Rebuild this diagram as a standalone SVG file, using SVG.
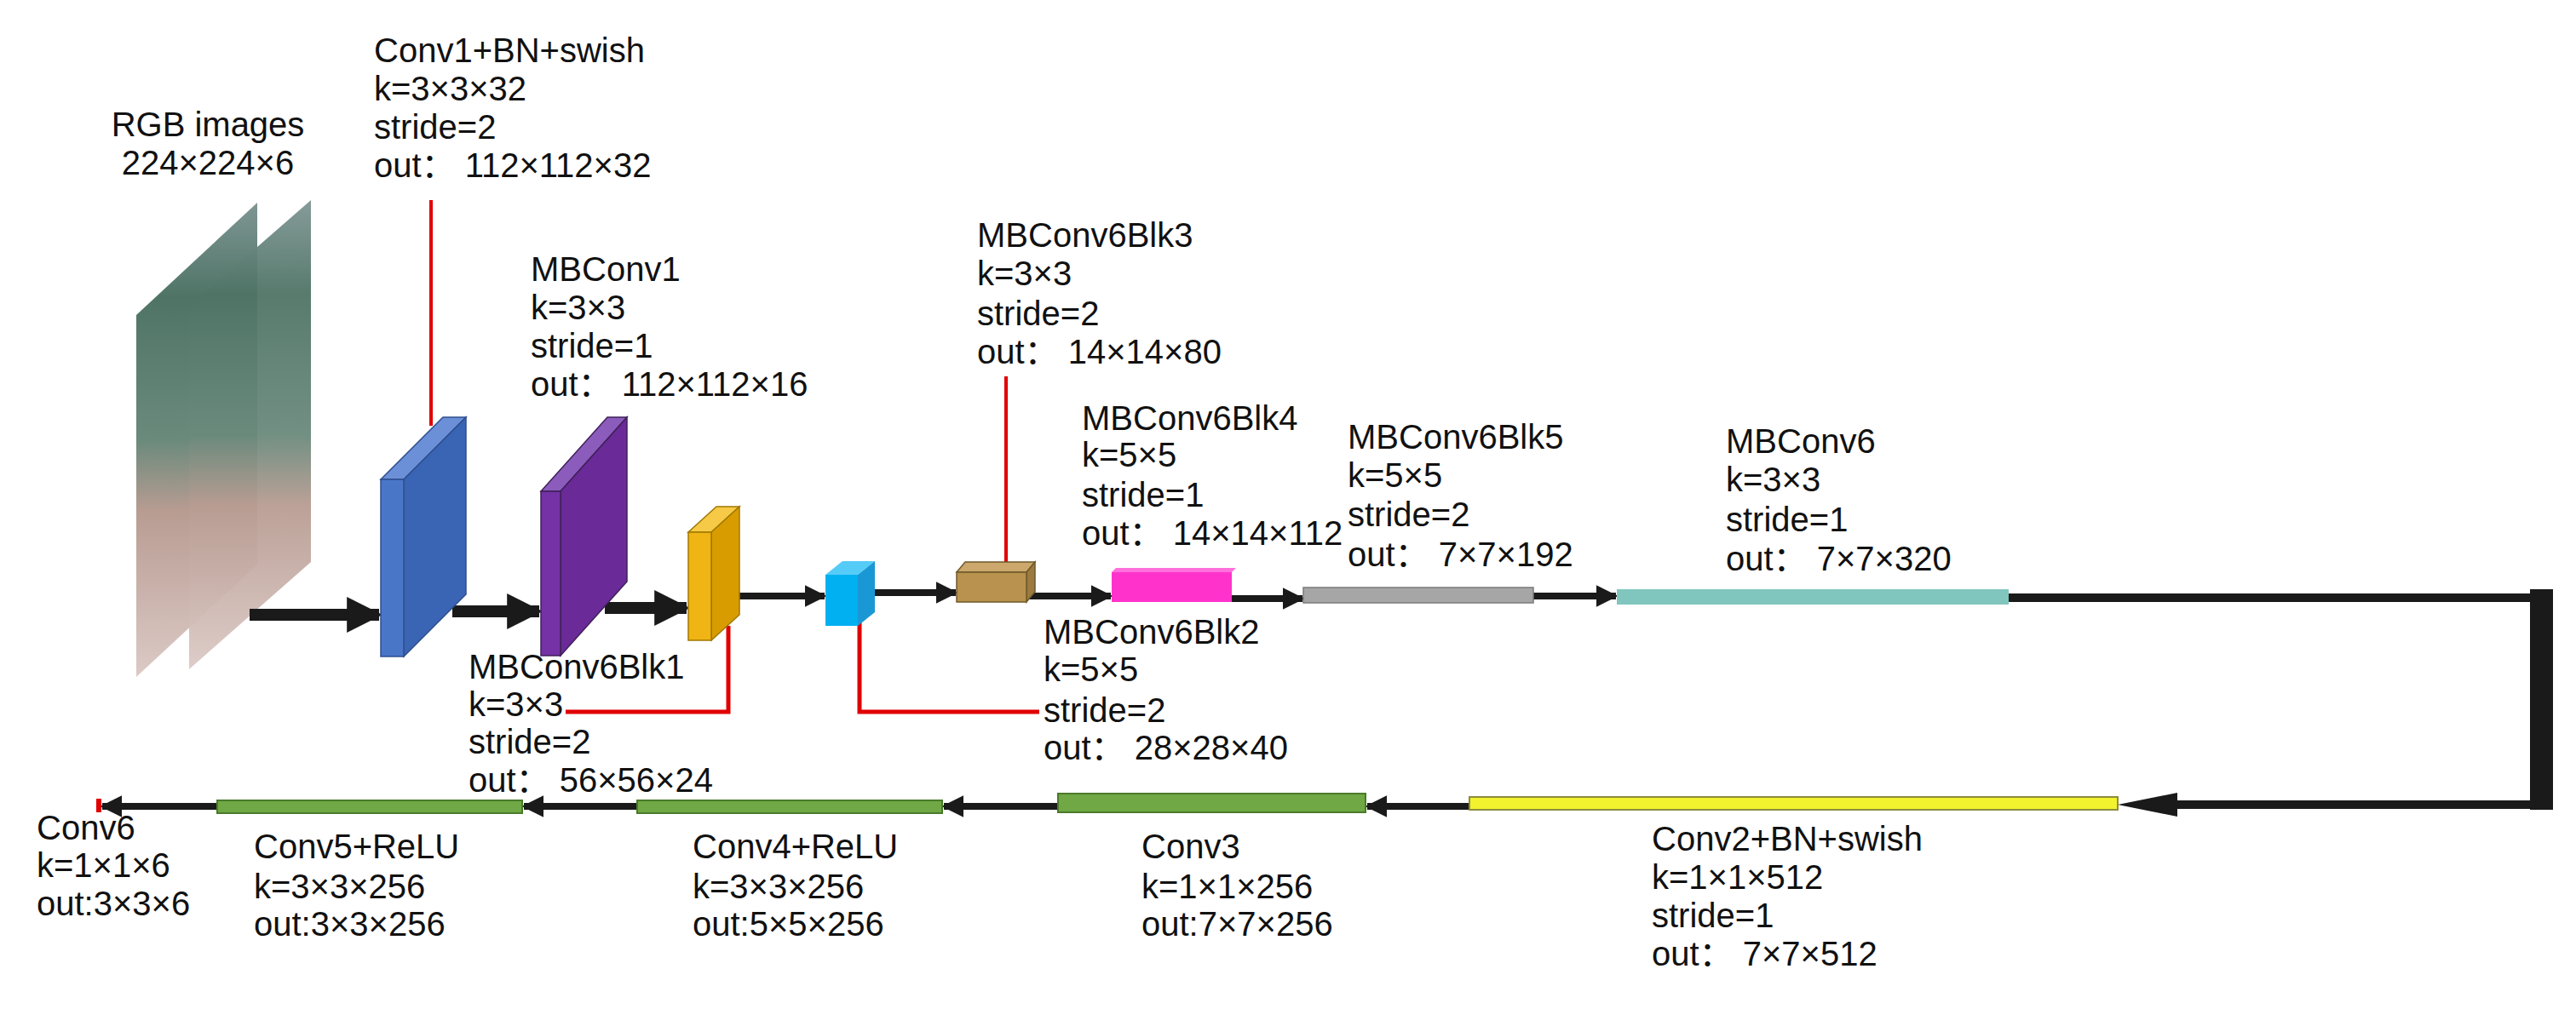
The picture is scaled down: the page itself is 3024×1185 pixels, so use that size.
<svg xmlns="http://www.w3.org/2000/svg" width="3024" height="1185" viewBox="0 0 3024 1185">
<style>
text{font-family:"Liberation Sans","Noto Sans CJK SC",sans-serif;font-size:40px;fill:#111}
.red{stroke:#E00000;fill:none}
.ar{stroke:#1a1a1a;fill:none}
</style>
<defs>
<marker id="ah" viewBox="0 0 10 10" refX="9" refY="5" markerWidth="3" markerHeight="3" orient="auto"><path d="M0,0L10,5L0,10z" fill="#1a1a1a"/></marker>
<marker id="ah2" viewBox="0 0 10 10" refX="9" refY="5" markerWidth="3.2" markerHeight="3.2" orient="auto"><path d="M0,0L10,5L0,10z" fill="#1a1a1a"/></marker>
<linearGradient id="img" x1="0" y1="0" x2="0" y2="1">
<stop offset="0" stop-color="#7f9694"/><stop offset="0.2" stop-color="#4f7466"/><stop offset="0.5" stop-color="#6a8a7c"/><stop offset="0.65" stop-color="#b89c92"/><stop offset="1" stop-color="#dccac6"/>
</linearGradient>
</defs>
<g id="input">
<text x="244" y="160" text-anchor="middle">RGB images</text>
<text x="244" y="205" text-anchor="middle">224×224×6</text>
<polygon points="160,370 302,238 302,663 160,795" fill="url(#img)"/>
<polygon points="222,360 365,235 365,660 222,786" fill="url(#img)" opacity="0.95"/>
</g>
<g id="connectors">
<line class="ar" x1="293" y1="722" x2="445" y2="722" stroke-width="14" marker-end="url(#ah)"/>
<line class="ar" x1="531" y1="718" x2="633" y2="718" stroke-width="14" marker-end="url(#ah)"/>
<line class="ar" x1="710" y1="714" x2="806" y2="714" stroke-width="14" marker-end="url(#ah)"/>
<line class="ar" x1="868" y1="700" x2="968" y2="700" stroke-width="8" marker-end="url(#ah2)"/>
<line class="ar" x1="1027" y1="696" x2="1122" y2="696" stroke-width="8" marker-end="url(#ah2)"/>
<line class="ar" x1="1207" y1="700" x2="1304" y2="700" stroke-width="8" marker-end="url(#ah2)"/>
<line class="ar" x1="1446" y1="703" x2="1529" y2="703" stroke-width="8" marker-end="url(#ah2)"/>
<line class="ar" x1="1800" y1="700" x2="1897" y2="700" stroke-width="8" marker-end="url(#ah2)"/>
<polyline class="ar" points="2358,702 2984,702" stroke-width="10"/>
<rect x="2970" y="692" width="27" height="259" fill="#1a1a1a"/>
<polyline class="ar" points="2984,945 2540,945" stroke-width="10"/>
<polygon points="2486,945 2556,931 2556,959" fill="#1a1a1a"/>
<line class="ar" x1="1725" y1="947" x2="1605" y2="947" stroke-width="8" marker-end="url(#ah2)"/>
<line class="ar" x1="1242" y1="947" x2="1108" y2="947" stroke-width="8" marker-end="url(#ah2)"/>
<line class="ar" x1="748" y1="947" x2="615" y2="947" stroke-width="8" marker-end="url(#ah2)"/>
<line class="ar" x1="255" y1="947" x2="120" y2="947" stroke-width="8" marker-end="url(#ah2)"/>
<line class="red" x1="506" y1="235" x2="506" y2="500" stroke-width="4"/>
<polyline class="red" points="855,735 855,836 664,836" stroke-width="5"/>
<polyline class="red" points="1009,718 1009,836 1220,836" stroke-width="5"/>
<line class="red" x1="1181" y1="442" x2="1181" y2="660" stroke-width="4"/>
</g>
<g id="conv1">
<polygon points="447,563 474,563 547,490 520,490" fill="#6c90d8" stroke="#2f4f8f" stroke-width="1.5"/>
<polygon points="474,563 547,490 547,698 474,771" fill="#3a64b4" stroke="#2f4f8f" stroke-width="1.5"/>
<rect x="447" y="563" width="27" height="208" fill="#4a76c8" stroke="#2f4f8f" stroke-width="1.5"/>
<text x="439" y="73">Conv1+BN+swish</text><text x="439" y="118">k=3×3×32</text><text x="439" y="163">stride=2</text><text x="439" y="208">out：  112×112×32</text>
</g>
<g id="mbconv1">
<polygon points="635,577 658,577 736,490 713,490" fill="#8c5cbc" stroke="#40205a" stroke-width="1.5"/>
<polygon points="658,577 736,490 736,683 658,770" fill="#6a2a98" stroke="#40205a" stroke-width="1.5"/>
<rect x="635" y="577" width="23" height="193" fill="#7432a6" stroke="#40205a" stroke-width="1.5"/>
<text x="623" y="330">MBConv1</text><text x="623" y="375">k=3×3</text><text x="623" y="420">stride=1</text><text x="623" y="465">out：  112×112×16</text>
</g>
<g id="blk1">
<polygon points="808,625 835,625 868,595 841,595" fill="#f6ca46" stroke="#a07800" stroke-width="1.5"/>
<polygon points="835,625 868,595 868,722 835,752" fill="#d89c00" stroke="#a07800" stroke-width="1.5"/>
<rect x="808" y="625" width="27" height="127" fill="#f0b414" stroke="#a07800" stroke-width="1.5"/>
<text x="550" y="797">MBConv6Blk1</text><text x="550" y="841">k=3×3</text><text x="550" y="885">stride=2</text><text x="550" y="930">out：  56×56×24</text>
</g>
<g id="blk2">
<polygon points="969,675 1007,675 1027,659 989,659" fill="#55ccf8"/>
<polygon points="1007,675 1027,659 1027,719 1007,735" fill="#1a98d6"/>
<rect x="969" y="675" width="38" height="60" fill="#00b0f0"/>
<text x="1225" y="756">MBConv6Blk2</text><text x="1225" y="800">k=5×5</text><text x="1225" y="848">stride=2</text><text x="1225" y="892">out：  28×28×40</text>
</g>
<g id="blk3">
<polygon points="1123,672 1205,672 1215,660 1133,660" fill="#cca86c" stroke="#6e5a2a" stroke-width="1.5"/>
<polygon points="1205,672 1215,660 1215,695 1205,707" fill="#9c7a40" stroke="#6e5a2a" stroke-width="1.5"/>
<rect x="1123" y="672" width="82" height="35" fill="#b8924e" stroke="#6e5a2a" stroke-width="1.5"/>
<text x="1147" y="290">MBConv6Blk3</text><text x="1147" y="335">k=3×3</text><text x="1147" y="382">stride=2</text><text x="1147" y="427">out：  14×14×80</text>
</g>
<g id="blk4">
<polygon points="1305,672 1446,672 1451,667 1310,667" fill="#ff70dc"/>
<rect x="1305" y="672" width="141" height="35" fill="#ff33cc"/>
<text x="1270" y="505">MBConv6Blk4</text><text x="1270" y="548">k=5×5</text><text x="1270" y="595">stride=1</text><text x="1270" y="640">out：  14×14×112</text>
</g>
<g id="blk5">
<rect x="1530" y="690" width="270" height="18" fill="#a6a6a6" stroke="#7a7a7a" stroke-width="1.5"/>
<text x="1582" y="527">MBConv6Blk5</text><text x="1582" y="572">k=5×5</text><text x="1582" y="618">stride=2</text><text x="1582" y="665">out：  7×7×192</text>
</g>
<g id="mbconv6">
<rect x="1898" y="692" width="460" height="18" fill="#80c6be"/>
<text x="2026" y="532">MBConv6</text><text x="2026" y="577">k=3×3</text><text x="2026" y="624">stride=1</text><text x="2026" y="670">out：  7×7×320</text>
</g>
<g id="conv2">
<rect x="1725" y="936" width="761" height="15" fill="#f2f22e" stroke="#8c8c3c" stroke-width="2"/>
<text x="1939" y="999">Conv2+BN+swish</text><text x="1939" y="1044">k=1×1×512</text><text x="1939" y="1089">stride=1</text><text x="1939" y="1134">out：  7×7×512</text>
</g>
<g id="conv3">
<rect x="1242" y="932" width="361" height="22" fill="#6fa844" stroke="#4a7a2a" stroke-width="2"/>
<text x="1340" y="1008">Conv3</text><text x="1340" y="1055">k=1×1×256</text><text x="1340" y="1099">out:7×7×256</text>
</g>
<g id="conv4">
<rect x="748" y="940" width="358" height="15" fill="#6fa844" stroke="#4a7a2a" stroke-width="2"/>
<text x="813" y="1008">Conv4+ReLU</text><text x="813" y="1055">k=3×3×256</text><text x="813" y="1099">out:5×5×256</text>
</g>
<g id="conv5">
<rect x="255" y="940" width="358" height="15" fill="#6fa844" stroke="#4a7a2a" stroke-width="2"/>
<text x="298" y="1008">Conv5+ReLU</text><text x="298" y="1055">k=3×3×256</text><text x="298" y="1099">out:3×3×256</text>
</g>
<g id="conv6">
<rect x="113" y="938" width="6" height="16" fill="#e00000"/>
<text x="43" y="986">Conv6</text><text x="43" y="1030">k=1×1×6</text><text x="43" y="1075">out:3×3×6</text>
</g>
</svg>
